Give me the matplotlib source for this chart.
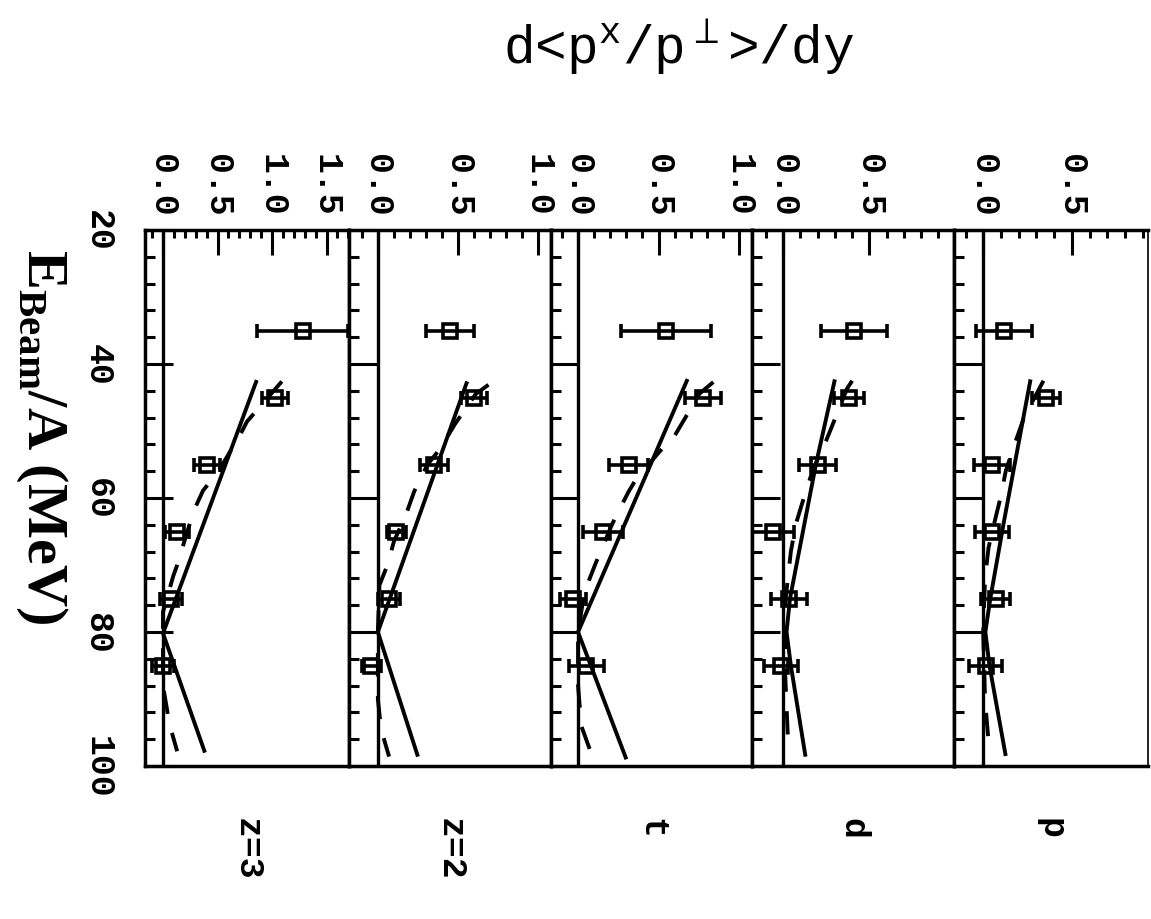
import matplotlib
matplotlib.use('Agg')
import matplotlib.pyplot as plt
from matplotlib.ticker import MultipleLocator, FormatStrFormatter

plt.rcParams['mathtext.fontset'] = 'custom'
plt.rcParams['mathtext.rm'] = 'Liberation Mono'
plt.rcParams['mathtext.bf'] = 'Liberation Serif:bold'

# ---------------- data ----------------
energy = [35, 45, 55, 65, 75, 85]
e_ticks = [20, 40, 60, 80, 100]
e_tick_labels = ['20', '40', '60', '80', '100']
panel_names = ['z=3', 'z=2', 't', 'd', 'p']

z3_val = [1.28, 1.03, 0.40, 0.125, 0.07, 0.0]
z3_err = [0.42, 0.12, 0.12, 0.11, 0.10, 0.10]
z2_val = [0.45, 0.60, 0.35, 0.115, 0.07, -0.04]
z2_err = [0.15, 0.08, 0.085, 0.06, 0.07, 0.06]
t_val = [0.545, 0.775, 0.315, 0.157, -0.03, 0.052]
t_err = [0.28, 0.11, 0.12, 0.125, 0.08, 0.11]
d_val = [0.41, 0.38, 0.20, -0.06, 0.035, -0.013]
d_err = [0.19, 0.087, 0.106, 0.126, 0.106, 0.10]
p_val = [0.117, 0.353, 0.05, 0.05, 0.07, 0.013]
p_err = [0.156, 0.08, 0.10, 0.095, 0.08, 0.093]

# solid curves (energy, value)
z3_fit_E = [42.4, 80.2, 98.0]
z3_fit_v = [0.86, 0.0, 0.385]
z2_fit_E = [42.6, 80.0, 98.6]
z2_fit_v = [0.557, 0.0, 0.25]
t_fit_E = [42.25, 80.0, 99.0]
t_fit_v = [0.68, 0.0, 0.30]
d_fit_E = [42.3, 55.0, 75.0, 80.0, 85.0, 98.6]
d_fit_v = [0.30, 0.19, 0.04, 0.02, 0.045, 0.13]
p_fit_E = [42.3, 63.5, 75.0, 80.0, 85.0, 98.5]
p_fit_v = [0.267, 0.117, 0.04, 0.012, 0.035, 0.127]

# dashed curves (energy, value)
z3_calc_E = [42.6, 48.6, 50.5, 56.1, 58.9, 62.0, 70.2, 71.6, 77.0, 88.0, 93.8, 97.8]
z3_calc_v = [1.09, 0.77, 0.71, 0.505, 0.367, 0.28, 0.126, 0.095, 0.0, 0.0, 0.06, 0.13]
z2_calc_E = [43.1, 44.5, 49.0, 52.6, 55.0, 59.0, 62.5, 66.5, 70.0, 73.0, 80.0, 90.0, 94.5, 98.6]
z2_calc_v = [0.69, 0.61, 0.48, 0.39, 0.31, 0.227, 0.175, 0.10, 0.06, 0.01, 0.0, 0.0, 0.02, 0.07]
t_calc_E = [42.7, 44.4, 50.7, 52.7, 57.0, 59.0, 62.5, 64.0, 70.0, 74.0, 80.0, 88.0, 94.0, 98.0]
t_calc_v = [0.84, 0.755, 0.60, 0.52, 0.365, 0.315, 0.24, 0.21, 0.105, 0.04, 0.0, 0.0, 0.02, 0.08]
d_calc_E = [42.5, 43.7, 49.5, 51.4, 56.0, 60.0, 63.8, 68.0, 75.0, 85.0, 97.0]
d_calc_v = [0.40, 0.37, 0.28, 0.25, 0.17, 0.12, 0.075, 0.045, 0.015, 0.01, 0.03]
p_calc_E = [42.5, 44.0, 48.0, 52.5, 56.0, 60.0, 64.0, 67.4, 72.0, 80.0, 90.0, 98.0]
p_calc_v = [0.34, 0.31, 0.23, 0.17, 0.127, 0.097, 0.06, 0.03, 0.01, 0.0, 0.01, 0.035]

panels = [
    (z3_val, z3_err, z3_fit_E, z3_fit_v, z3_calc_E, z3_calc_v),
    (z2_val, z2_err, z2_fit_E, z2_fit_v, z2_calc_E, z2_calc_v),
    (t_val, t_err, t_fit_E, t_fit_v, t_calc_E, t_calc_v),
    (d_val, d_err, d_fit_E, d_fit_v, d_calc_E, d_calc_v),
    (p_val, p_err, p_fit_E, p_fit_v, p_calc_E, p_calc_v),
]

# ---------------- layout ----------------
W, H = 1151, 920
edges_px = [145, 349, 551, 752, 954, 1148]
top_px, bot_px = 231, 767
val_limits = [(-0.165, 1.706), (-0.18, 1.08), (-0.168, 1.08), (-0.18, 0.99), (-0.165, 0.93)]

fig = plt.figure(figsize=(W / 100, H / 100), dpi=100)
fig.patch.set_facecolor('white')

mono = 'Liberation Mono'
lw = 2.5

for i, (vals, errs, fE, fv, cE, cv) in enumerate(panels):
    x0, x1 = edges_px[i], edges_px[i + 1]
    ax = fig.add_axes([x0 / W, 1 - bot_px / H, (x1 - x0) / W, (bot_px - top_px) / H])
    ax.set_xlim(*val_limits[i])
    ax.set_ylim(100, 20)
    for s in ax.spines.values():
        s.set_linewidth(lw)
    ax.spines['right'].set_linewidth(1.2 if i == len(panels) - 1 else lw)

    ax.axvline(0, color='k', lw=2.4, zorder=1)
    ax.plot(fv, fE, color='k', lw=2.8, solid_capstyle='butt', zorder=2)
    ax.plot(cv, cE, color='k', lw=2.8, linestyle=(0, (6, 5)), zorder=2)
    ax.errorbar(vals, energy, xerr=errs, fmt='s', mfc='none', mec='k', ms=10,
                mew=2.6, ecolor='k', elinewidth=2.6, capsize=5, capthick=2.6,
                zorder=3, clip_on=True)

    # value axis (top)
    ax.xaxis.set_ticks_position('top')
    ax.xaxis.set_major_locator(MultipleLocator(0.5))
    ax.xaxis.set_minor_locator(MultipleLocator(0.1))
    ax.xaxis.set_major_formatter(FormatStrFormatter('%.1f'))
    ax.tick_params(axis='x', which='major', direction='in', length=18, width=2.2,
                   top=True, bottom=False, labeltop=True, labelbottom=False,
                   pad=10, labelrotation=-90, labelsize=25)
    ax.tick_params(axis='x', which='minor', direction='in', length=6, width=2.2,
                   top=True, bottom=False)
    for lab in ax.get_xticklabels():
        lab.set_fontfamily(mono)
        lab.set_fontweight('bold')

    # energy axis (left)
    ax.set_yticks(e_ticks)
    ax.yaxis.set_minor_locator(MultipleLocator(4))
    ax.tick_params(axis='y', which='major', direction='in', length=20, width=2.2,
                   left=True, right=False, pad=22)
    ax.tick_params(axis='y', which='minor', direction='in', length=7, width=2.2,
                   left=True, right=False)
    if i == 0:
        ax.set_yticklabels(e_tick_labels, rotation=-90, va='center', ha='right',
                           fontsize=25, fontfamily=mono, fontweight='bold')
    else:
        ax.set_yticklabels([])

    cx = (x0 + x1) / 2
    fig.text(cx / W, 1 - 818 / H, panel_names[i], rotation=-90, ha='center', va='top',
             fontsize=25, fontfamily=mono, fontweight='bold')

fig.text(42 / W, 1 - 437 / H, r'E$_{\mathbf{Beam}}$/A (MeV)', rotation=-90,
         ha='center', va='center', fontsize=42, fontfamily='Liberation Serif',
         fontweight='bold')

fig.text(679 / W, 1 - 47 / H, r'd<p$^{\mathrm{x}}$/p$^{\perp}$>/dy', ha='center',
         va='center', fontsize=38, fontfamily=mono)

fig.savefig('out.png', dpi=100, facecolor='white')
